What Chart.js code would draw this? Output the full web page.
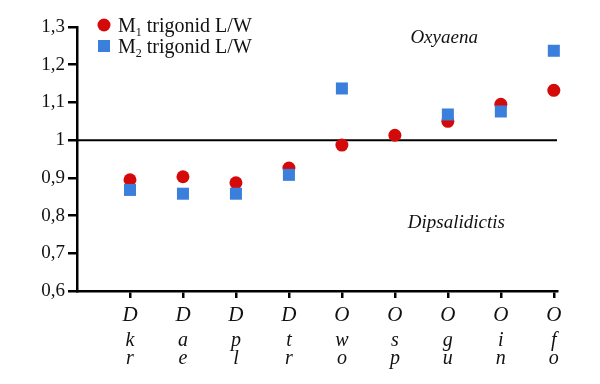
<!DOCTYPE html>
<html>
<head>
<meta charset="utf-8">
<script src="https://cdn.jsdelivr.net/npm/chart.js@4.4.1/dist/chart.umd.min.js"></script>
<style>
  html, body { margin: 0; padding: 0; background: #fff; }
  #wrap { width: 600px; height: 384px; }
</style>
</head>
<body>
<div id="wrap"><canvas id="chart"></canvas></div>
<script>
    // taxa: genus letter + species abbreviation, stacked under each tick
    const genus = ['D', 'D', 'D', 'D', 'O', 'O', 'O', 'O', 'O'];
    const species = ['kr', 'ae', 'pl', 'tr', 'wo', 'sp', 'gu', 'in', 'fo'];
    const m1 = [0.895, 0.903, 0.887, 0.926, 0.987, 1.013, 1.05, 1.095, 1.132];
    const m2 = [0.868, 0.858, 0.858, 0.908, 1.137, null, 1.068, 1.076, 1.237];
    const yTicks = [0.6, 0.7, 0.8, 0.9, 1, 1.1, 1.2, 1.3];
    const refLine = 1;

    const serif = '"Liberation Serif", "DejaVu Serif", serif';
    const red = '#d40a0a';
    const blue = '#3a7fdc';

    const toPts = arr => arr.map((v, i) => v === null ? null : { x: i + 1, y: v }).filter(p => p);

    // horizontal line at 1, genus names, species letters, legend with subscripts
    const extras = {
      id: 'extras',
      beforeDatasetsDraw(chart) {
        const { ctx, chartArea, scales: { y } } = chart;
        const py = y.getPixelForValue(refLine);
        ctx.save();
        ctx.strokeStyle = '#000';
        ctx.lineWidth = 2;
        ctx.beginPath();
        ctx.moveTo(chartArea.left, py);
        ctx.lineTo(chartArea.right, py);
        ctx.stroke();
        ctx.restore();
      },
      afterDraw(chart) {
        const { ctx, chartArea, scales: { x, y } } = chart;
        ctx.save();
        ctx.fillStyle = '#111';
        ctx.textAlign = 'center';
        ctx.textBaseline = 'middle';
        ctx.font = 'italic 19px ' + serif;
        ctx.fillText('Oxyaena', x.getPixelForValue(6.93), y.getPixelForValue(1.27));
        ctx.fillText('Dipsalidictis', x.getPixelForValue(7.16), y.getPixelForValue(0.78));

        // species letters under the genus tick label
        ctx.font = 'italic 20px ' + serif;
        species.forEach((s, i) => {
          const px = x.getPixelForValue(i + 1);
          ctx.fillText(s[0], px, chartArea.bottom + 50);
          ctx.fillText(s[1], px, chartArea.bottom + 68);
        });

        // legend
        const rows = [
          { sub: '1', color: red, shape: 'circle' },
          { sub: '2', color: blue, shape: 'rect' }
        ];
        const lx = chartArea.left + 27;
        rows.forEach((r, i) => {
          const cy = 25 + i * 21;
          ctx.fillStyle = r.color;
          if (r.shape === 'circle') {
            ctx.beginPath();
            ctx.arc(lx, cy, 6.5, 0, Math.PI * 2);
            ctx.fill();
          } else {
            ctx.fillRect(lx - 6, cy - 6, 12, 12);
          }
          ctx.fillStyle = '#111';
          ctx.textAlign = 'left';
          ctx.textBaseline = 'alphabetic';
          let tx = lx + 14;
          ctx.font = '20px ' + serif;
          ctx.fillText('M', tx, cy + 7);
          tx += ctx.measureText('M').width;
          ctx.font = '12px ' + serif;
          ctx.fillText(r.sub, tx, cy + 11);
          tx += ctx.measureText(r.sub).width;
          ctx.font = '20px ' + serif;
          ctx.fillText(' trigonid L/W', tx, cy + 7);
        });
        ctx.restore();
      }
    };

    const ctxChart = document.getElementById('chart');
    new Chart(ctxChart, {
      type: 'scatter',
      data: {
        datasets: [
          {
            label: 'M1 trigonid L/W',
            data: toPts(m1),
            backgroundColor: red,
            borderWidth: 0,
            pointStyle: 'circle',
            pointRadius: 6.5,
            clip: false,
            order: 2
          },
          {
            label: 'M2 trigonid L/W',
            data: toPts(m2),
            backgroundColor: blue,
            borderWidth: 0,
            pointStyle: 'rect',
            pointRadius: 8.5,
            clip: false,
            order: 1
          }
        ]
      },
      options: {
        responsive: true,
        maintainAspectRatio: false,
        animation: false,
        layout: { padding: { top: 27, right: 43, left: 0, bottom: 0 } },
        plugins: { legend: { display: false }, tooltip: { enabled: false } },
        scales: {
          x: {
            type: 'linear',
            min: 0,
            max: 9.06,
            afterBuildTicks: scale => { scale.ticks = genus.map((g, i) => ({ value: i + 1 })); },
            afterFit: scale => { scale.height = 93; },
            border: { display: true, color: '#000', width: 2.5 },
            grid: { drawOnChartArea: false, drawTicks: true, tickLength: 7, color: '#000', lineWidth: 2.5 },
            ticks: {
              autoSkip: false,
              maxRotation: 0,
              padding: 5,
              color: '#111',
              font: { family: serif, size: 21, style: 'italic' },
              callback: (v) => genus[v - 1] || ''
            }
          },
          y: {
            min: 0.6,
            max: 1.3,
            afterBuildTicks: scale => { scale.ticks = yTicks.map(v => ({ value: v })); },
            afterFit: scale => { scale.width = 77; },
            border: { display: true, color: '#000', width: 2.5 },
            grid: { drawOnChartArea: false, drawTicks: true, tickLength: 9, color: '#000', lineWidth: 2.5 },
            ticks: {
              padding: 3,
              color: '#111',
              font: { family: serif, size: 19 },
              callback: v => v === 1 ? '1' : v.toFixed(1).replace('.', ',')
            }
          }
        }
      },
      plugins: [extras]
    });
</script>
</body>
</html>
